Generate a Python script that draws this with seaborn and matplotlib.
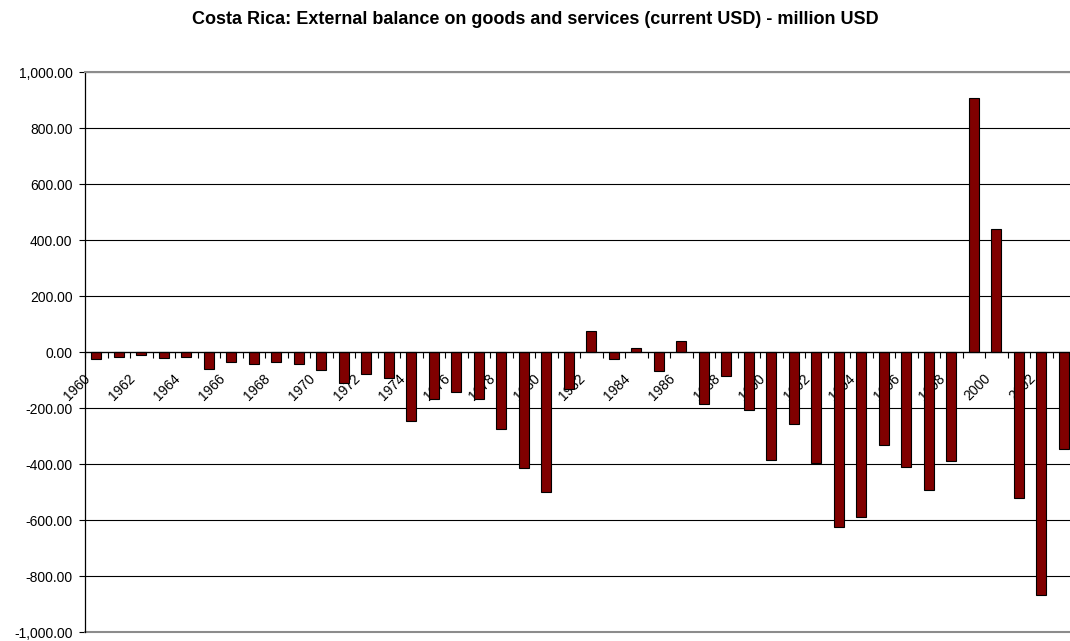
import matplotlib
matplotlib.use("Agg")
import matplotlib.pyplot as plt
import matplotlib.transforms as mtransforms
from matplotlib.ticker import FuncFormatter, FixedLocator, MultipleLocator
import pandas as pd
import seaborn as sns

years = list(range(1960, 2004))
balance = [
    -24, -17, -12, -23, -18, -60, -37, -43, -36, -44, -65, -111,
    -79, -94, -248, -167, -144, -169, -276, -414, -501, -131, 76, -24, 14, -69, 38,
    -187, -87, -206, -387, -256, -397, -626, -590, -331, -412, -494, -389, 906, 441,
    -520, -867, -346,
]
title = "Costa Rica: External balance on goods and services (current USD) - million USD"

sns.set_style("white")
plt.rcParams["font.family"] = ["Liberation Sans", "DejaVu Sans"]
plt.rcParams["text.color"] = "black"
plt.rcParams["xtick.color"] = "black"
plt.rcParams["ytick.color"] = "black"
plt.rcParams["xtick.labelcolor"] = "black"
plt.rcParams["ytick.labelcolor"] = "black"

df = pd.DataFrame({"year": [str(y) for y in years], "balance": balance})

fig = plt.figure(figsize=(10.7, 6.41), dpi=100)
ax = fig.add_axes([85 / 1070, 9 / 641, 990 / 1070, 560 / 641])

sns.barplot(data=df, x="year", y="balance", order=df["year"], color="#800000",
            saturation=1, edgecolor="black", linewidth=0.8, width=0.45, ax=ax)

ax.set_xlim(-0.5, len(years) - 0.5)
ax.set_ylim(-1000, 1000)
ax.set_xlabel("")
ax.set_ylabel("")

# y axis: grid every 200, thousands separators with two decimals
ax.yaxis.set_major_locator(MultipleLocator(200))
ax.yaxis.set_major_formatter(FuncFormatter(lambda v, p: f"{v:,.2f}"))
ax.tick_params(axis="y", which="major", direction="out", length=4, width=0.8,
               color="black", labelcolor="black", labelsize=10, pad=5, left=True)
ax.set_axisbelow(True)
ax.yaxis.grid(True, color="black", linewidth=0.8)

# x axis sits on the zero line
ax.spines["bottom"].set_position(("data", 0))
ax.spines["bottom"].set_color("black")
ax.spines["bottom"].set_linewidth(0.9)
ax.spines["left"].set_color("black")
ax.spines["left"].set_linewidth(0.9)
ax.spines["top"].set_color("#8c8c8c")
ax.spines["top"].set_linewidth(1.5)
ax.spines["right"].set_visible(False)
ax.axhline(-1000, color="#8c8c8c", linewidth=1.5, clip_on=False)

# category boundary ticks, labels every other year
ax.xaxis.set_minor_locator(FixedLocator([i - 0.5 for i in range(len(years) + 1)]))
ax.set_xticks(range(len(years)))
ax.set_xticklabels([str(y) if (y % 2 == 0) else "" for y in years])
ax.tick_params(axis="x", which="minor", direction="out", length=4, width=0.8,
               color="black", bottom=True)
ax.tick_params(axis="x", which="major", length=0, labelsize=10, pad=14,
               labelcolor="black")
offset = mtransforms.ScaledTranslation(-3 / 100, 0, fig.dpi_scale_trans)
for lab in ax.get_xticklabels():
    lab.set_rotation(45)
    lab.set_ha("right")
    lab.set_va("top")
    lab.set_transform(lab.get_transform() + offset)

fig.text(0.5, 1 - 20 / 641, title, ha="center", va="center",
         fontsize=13, fontweight="bold", color="black")

fig.savefig("out.png", dpi=100)
